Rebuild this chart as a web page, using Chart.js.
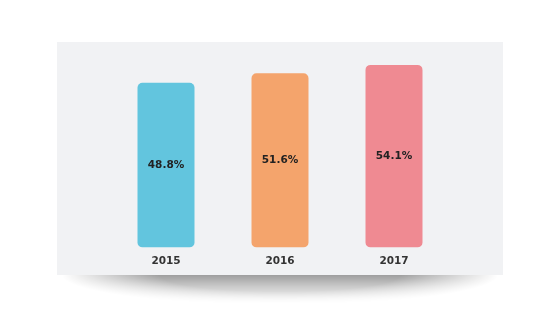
<!DOCTYPE html>
<html>
<head>
<meta charset="utf-8">
<script src="https://cdn.jsdelivr.net/npm/chart.js@4.4.1/dist/chart.umd.min.js"></script>
<style>
  html, body { margin: 0; padding: 0; background: #fff; }
  body { width: 544px; height: 323px; position: relative; overflow: hidden; }
  .shadow {
    position: absolute; left: 62px; top: 275px; width: 436px; height: 30px;
    background: linear-gradient(to bottom, rgba(0,0,0,0.38) 0%, rgba(0,0,0,0.2) 40%, rgba(0,0,0,0) 100%);
    -webkit-mask-image: radial-gradient(ellipse 50% 100% at 50% 0%, #000 55%, transparent 100%);
    mask-image: radial-gradient(ellipse 50% 100% at 50% 0%, #000 55%, transparent 100%);
  }
  .panel {
    position: absolute; left: 57px; top: 42px; width: 446px; height: 233px;
    background: #f1f2f4;
  }
  canvas { display: block; }
</style>
</head>
<body>
<div class="shadow"></div>
<div class="panel"><canvas id="bars" width="446" height="233"></canvas></div>
<script>
const years = ['2015', '2016', '2017'];
const shares = [48.8, 51.6, 54.1];
const barColors = ['#62c5de', '#f4a46c', '#ef8a92'];

// writes the percentage in the middle of each bar
const valueLabels = {
    id: 'valueLabels',
    afterDatasetsDraw(chart) {
        const ctx = chart.ctx;
        const meta = chart.getDatasetMeta(0);
        ctx.save();
        ctx.font = 'bold 10.5px "DejaVu Sans"';
        ctx.fillStyle = '#222';
        ctx.textAlign = 'center';
        ctx.textBaseline = 'middle';
        meta.data.forEach((bar, i) => {
            const mid = (bar.y + bar.base) / 2;
            ctx.fillText(shares[i].toFixed(1) + '%', bar.x, mid);
        });
        ctx.restore();
    }
};

new Chart(document.getElementById('bars').getContext('2d'), {
    type: 'bar',
    data: {
        labels: years,
        datasets: [{
            data: shares,
            backgroundColor: barColors,
            borderRadius: 5,
            borderSkipped: false,
            barPercentage: 0.5,
            categoryPercentage: 1
        }]
    },
    options: {
        responsive: false,
        animation: false,
        layout: { padding: { left: 52, right: 52, top: 3, bottom: 7 } },
        plugins: {
            legend: { display: false },
            tooltip: { enabled: false }
        },
        scales: {
            x: {
                grid: { display: false },
                border: { display: false },
                ticks: {
                    color: '#333',
                    padding: 0,
                    font: { family: 'DejaVu Sans', weight: 'bold', size: 10.5 }
                }
            },
            y: {
                display: false,
                min: 0,
                max: 60
            }
        }
    },
    plugins: [valueLabels]
});
</script>
</body>
</html>
